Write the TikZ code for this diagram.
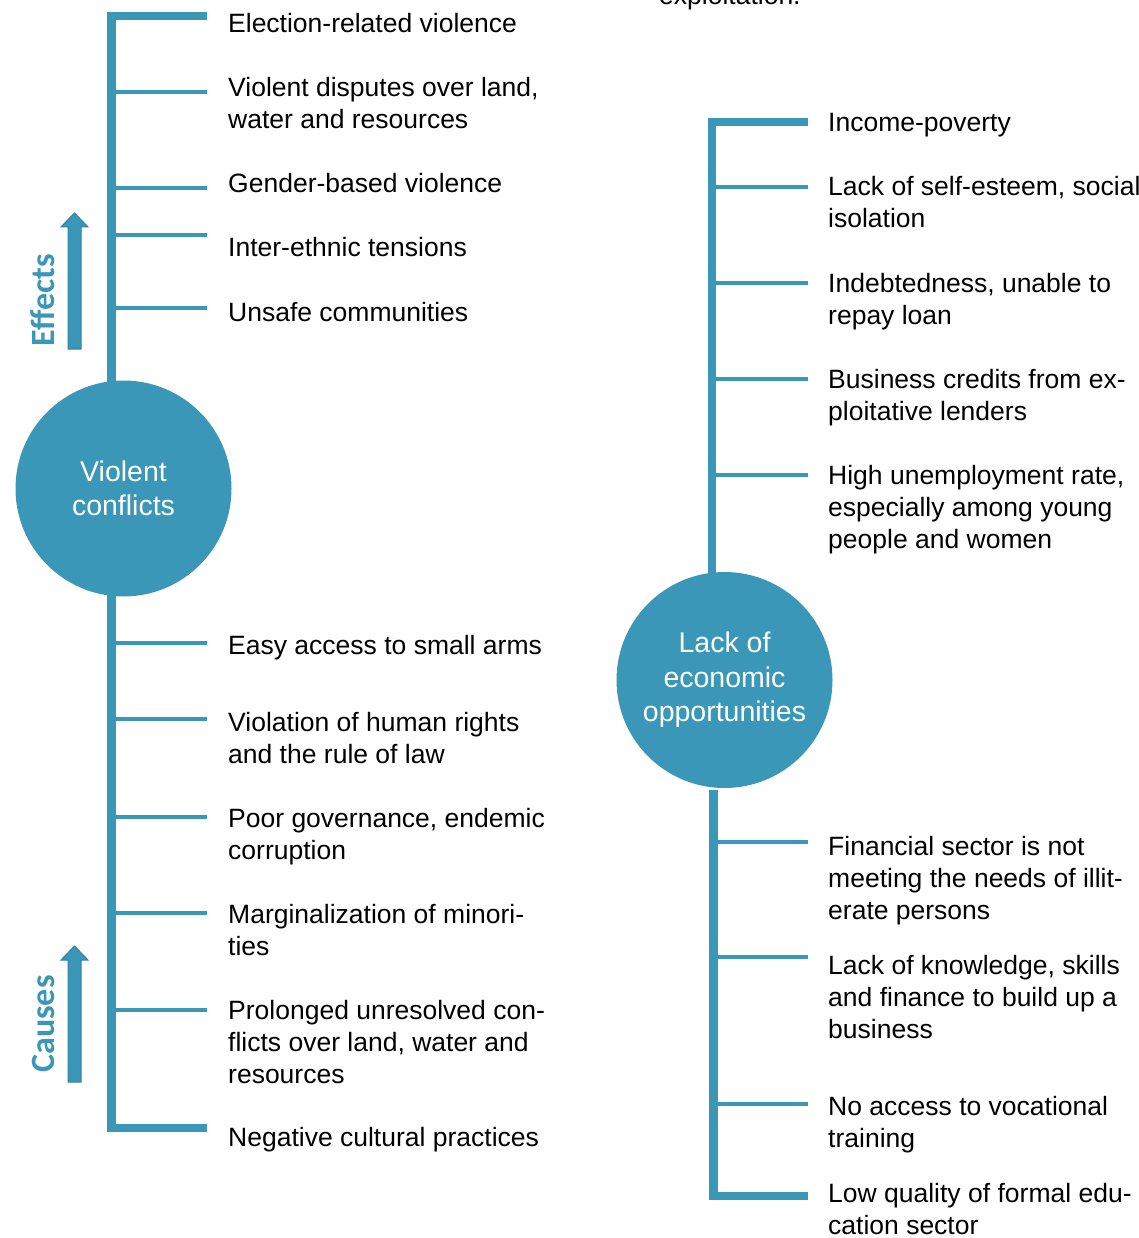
\documentclass[tikz,border=0pt]{standalone}
\usepackage{fontspec}
\setmainfont{Liberation Sans}
\newfontfamily\sidefont{Carlito}
\usetikzlibrary{backgrounds}
\definecolor{hubteal}{RGB}{58,151,183}
\definecolor{arrowedge}{RGB}{52,128,165}

\tikzset{
  hub/.style={circle, fill=hubteal, minimum size=216pt, inner sep=0pt,
    text=white, align=center, font=\fontsize{28.5}{34.5}\selectfont},
  trunk/.style={hubteal, line width=8.5pt},
  twig/.style={hubteal, line width=3.5pt},
  item/.style={anchor=base west, align=left, inner sep=0pt,
    font=\fontsize{26.5}{32}\selectfont},
  sidelabel/.style={hubteal, rotate=90, anchor=base, inner sep=0pt,
    font=\sidefont\bfseries\fontsize{34}{40}\selectfont},
  bigarrow/.style={fill=hubteal, draw=arrowedge, line width=1pt}
}

\begin{document}
\begin{tikzpicture}[x=1pt, y=-1pt]
    \useasboundingbox (0,0) rectangle (1139,1238);

    % Hubs
    \node[hub] (conflict) at (123.5,488.5) {Violent\\conflicts};
    \node[hub] (economy) at (724.5,680) {Lack of\\economic\\opportunities};

    % Trunks and twigs behind the hubs
    \begin{scope}[on background layer]
        \coordinate (conflictTop) at (207,16);
        \coordinate (conflictBot) at (207,1128);
        \coordinate (economyTop) at (808,122);
        \coordinate (economyBot) at (808,1196);
        \draw[trunk] (conflictTop) -| (111.5,488.5) |- (conflictBot);
        \draw[trunk] (economyTop) -| (712,680);
        \draw[trunk] (713.5,790) |- (economyBot);
        \foreach \y in {92,188,235,308,643,719,817,913,1010}
            \draw[twig] (111.5,\y) -- (207,\y);
        \foreach \y in {187,283,379,475}
            \draw[twig] (712,\y) -- (808,\y);
        \foreach \y in {842,957,1104}
            \draw[twig] (713.5,\y) -- (808,\y);
    \end{scope}

    % Effects / causes arrows
    \draw[bigarrow] (68,349) -- (68,227) -- (61,227) -- (74.5,213) -- (88,227) -- (81,227) -- (81,349) -- cycle;
    \draw[bigarrow] (68,1082) -- (68,960) -- (61,960) -- (74.5,946) -- (88,960) -- (81,960) -- (81,1082) -- cycle;
    \node[sidelabel] (effects) at (54,300) {Effects};
    \node[sidelabel] (causes) at (54,1024) {Causes};

    % Cut-off caption above
    \node[item] (caption) at (659,5) {exploitation.};

    % Effects of violent conflicts (base = last line)
    \node[item] (ve1) at (228,33) {Election-related violence};
    \node[item] (ve2) at (228,129) {Violent disputes over land,\\water and resources};
    \node[item] (ve3) at (228,193) {Gender-based violence};
    \node[item] (ve4) at (228,257) {Inter-ethnic tensions};
    \node[item] (ve5) at (228,321) {Unsafe communities};

    % Causes of violent conflicts
    \node[item] (vc1) at (228,654) {Easy access to small arms};
    \node[item] (vc2) at (228,763) {Violation of human rights\\and the rule of law};
    \node[item] (vc3) at (228,859) {Poor governance, endemic\\corruption};
    \node[item] (vc4) at (228,955) {Marginalization of minori-\\ties};
    \node[item] (vc5) at (228,1083) {Prolonged unresolved con-\\flicts over land, water and\\resources};
    \node[item] (vc6) at (228,1146) {Negative cultural practices};

    % Effects of lacking economic opportunities
    \node[item] (ee1) at (828,132) {Income-poverty};
    \node[item] (ee2) at (828,228) {Lack of self-esteem, social\\isolation};
    \node[item] (ee3) at (828,324) {Indebtedness, unable to\\repay loan};
    \node[item] (ee4) at (828,420) {Business credits from ex-\\ploitative lenders};
    \node[item] (ee5) at (828,548) {High unemployment rate,\\especially among young\\people and women};

    % Causes of lacking economic opportunities
    \node[item] (ec1) at (828,919) {Financial sector is not\\meeting the needs of illit-\\erate persons};
    \node[item] (ec2) at (828,1038) {Lack of knowledge, skills\\and finance to build up a\\business};
    \node[item] (ec3) at (828,1147) {No access to vocational\\training};
    \node[item] (ec4) at (828,1234) {Low quality of formal edu-\\cation sector};
\end{tikzpicture}
\end{document}
